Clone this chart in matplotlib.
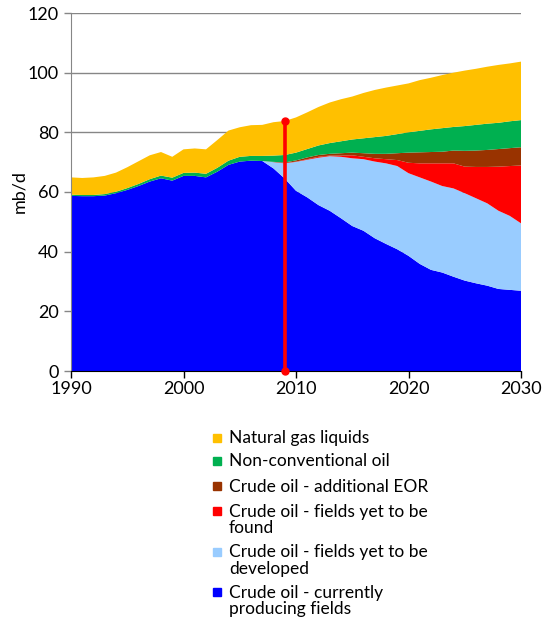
import matplotlib
matplotlib.use("Agg")
import matplotlib.pyplot as plt
import numpy as np

years = list(range(1990, 2031))

crude_producing = [58.7, 58.6, 58.6, 58.8, 59.6, 60.7, 62.0, 63.5, 64.6, 63.8,
                   65.4, 65.4, 64.9, 66.8, 69.1, 70.2, 70.5, 70.4, 67.9, 64.5,
                   60.4, 58.2, 55.6, 53.7, 51.2, 48.6, 47.0, 44.5, 42.6, 40.8,
                   38.6, 35.9, 33.9, 33.0, 31.6, 30.3, 29.4, 28.6, 27.5, 27.2, 26.9]
crude_to_develop = [0]*18 + [2.1, 5.1, 9.7, 12.6, 15.9, 18.3, 20.6, 22.7, 24.0, 25.7,
                             27.0, 27.9, 27.7, 29.0, 29.6, 29.0, 29.6, 29.3, 28.5, 27.6,
                             26.2, 24.8, 22.6]
crude_to_find = [0]*18 + [0.0, 0.1, 0.1, 0.2, 0.3, 0.2, 0.4, 1.0, 0.8, 1.1,
                          1.4, 2.0, 3.5, 4.7, 6.1, 7.6, 8.4, 8.9, 10.5, 12.2,
                          14.8, 16.7, 19.4]
crude_eor = [0]*18 + [0.1, 0.2, 0.4, 0.6, 0.6, 0.6, 0.8, 0.9, 1.2, 1.5,
                      1.8, 2.3, 3.4, 3.7, 3.8, 3.9, 4.3, 5.3, 5.5, 5.7,
                      5.9, 6.0, 6.1]
non_conventional = [0.4, 0.4, 0.4, 0.5, 0.5, 0.6, 0.7, 0.8, 0.9, 1.0,
                    1.0, 1.1, 1.2, 1.3, 1.4, 1.6, 1.6, 1.7, 2.1, 2.5,
                    2.6, 2.8, 3.2, 3.6, 4.0, 4.4, 5.0, 5.6, 6.0, 6.4,
                    6.8, 7.2, 7.6, 7.9, 7.9, 8.3, 8.6, 8.8, 8.8, 9.0, 9.1]
ngl = [5.8, 5.7, 5.9, 6.1, 6.4, 7.0, 7.6, 8.0, 7.9, 7.0,
       7.9, 8.1, 8.2, 9.3, 10.1, 9.9, 10.3, 10.4, 11.2, 11.4,
       11.8, 12.3, 12.9, 13.6, 14.1, 14.4, 15.2, 15.8, 16.2, 16.3,
       16.4, 17.0, 17.3, 17.8, 18.2, 18.6, 18.8, 19.1, 19.4, 19.4, 19.6]

labels = ["Crude oil - currently\nproducing fields",
          "Crude oil - fields yet to be\ndeveloped",
          "Crude oil - fields yet to be\nfound",
          "Crude oil - additional EOR",
          "Non-conventional oil",
          "Natural gas liquids"]
colors = ["#0000FF", "#99CCFF", "#FF0000", "#993300", "#00B050", "#FFC000"]

marker_year = 2009
marker_top = 83.7

xticks = [1990, 2000, 2010, 2020, 2030]
yticks = [0, 20, 40, 60, 80, 100, 120]

plt.rcParams['font.family'] = ['Lato', 'DejaVu Sans']

fig = plt.figure(figsize=(5.47, 6.25), dpi=100)
ax = fig.add_axes([71/547, 1-371/625, 450/547, 358/625])

ax.stackplot(years, crude_producing, crude_to_develop, crude_to_find,
             crude_eor, non_conventional, ngl, colors=colors, linewidth=0, zorder=2)

ax.plot([marker_year, marker_year], [0, marker_top], color="#FF0000", lw=2.6,
        marker="o", ms=5, clip_on=False, zorder=5)

ax.set_xlim(1990, 2030)
ax.set_ylim(0, 120)
ax.set_xticks(xticks)
ax.set_yticks(yticks)
ax.yaxis.grid(True, color="#868686", lw=1, zorder=0)
ax.set_axisbelow(True)
for s in ["top", "right"]:
    ax.spines[s].set_visible(False)
ax.spines["left"].set_color("#868686")
ax.spines["bottom"].set_color("#000000")
ax.tick_params(axis="y", direction="out", length=5, width=1, color="#868686",
               labelsize=13, pad=4)
ax.tick_params(axis="x", direction="out", length=5, width=1, color="#000000",
               labelsize=13, pad=2)
ax.set_ylabel("mb/d", fontsize=13, labelpad=0)

# legend (reverse of stacking order)
entry_y = [437.5, 460.5, 485.8, 510.8, 551.5, 591.8]
for yy, lab, col in zip(entry_y, labels[::-1], colors[::-1]):
    fig.patches.append(plt.Rectangle((212.5/547, 1-(yy+4)/625), 8/547, 8/625,
                                     transform=fig.transFigure, color=col, figure=fig))
    fig.text(229/547, 1-(yy-7)/625, lab, fontsize=12.5, va="top", ha="left",
             linespacing=1.02)

fig.savefig("out.png", dpi=100)
